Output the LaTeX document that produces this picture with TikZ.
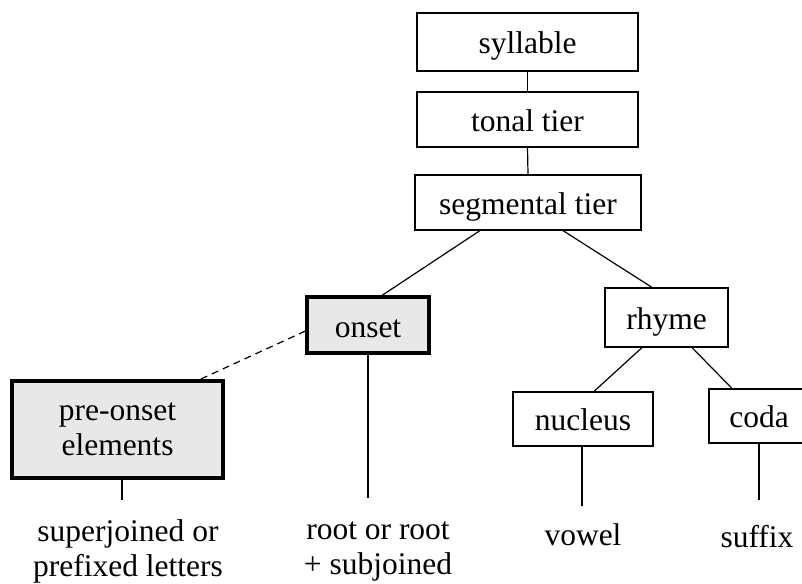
\documentclass[tikz,border=0pt]{standalone}
\usepackage{fontspec}
\setmainfont{Liberation Serif}
\begin{document}
\begin{tikzpicture}[x=1pt,y=-1pt,
    tierbox/.style={draw,line width=1.2pt,inner sep=0pt,
        font=\fontsize{31.5}{35}\selectfont,text height=25pt,text depth=1.5pt},
    keybox/.style={draw,line width=3.2pt,fill=black!9,inner sep=0pt,
        font=\fontsize{31.5}{35}\selectfont},
    gloss/.style={inner sep=0pt,align=center,font=\fontsize{31.5}{35}\selectfont},
    link/.style={line width=1.2pt}]
            \useasboundingbox (0,0) rectangle (802,583);
            \clip (0,0) rectangle (802,583);

            %tiers
            \node[tierbox,minimum width=221pt,minimum height=58pt] (syllable) at (527.5,42) {syllable};

            \node[tierbox,minimum width=221pt,minimum height=55pt] (tonal) at (527.5,119.5) {tonal tier};

            \node[tierbox,minimum width=226pt,minimum height=55pt] (segmental) at (528,202.5) {segmental tier};

            %onset side
            \node[keybox,minimum width=122pt,minimum height=56pt,text height=25pt,text depth=-7pt] (onset) at (368,325) {onset};

            \node[keybox,minimum width=211pt,minimum height=97pt,align=center] (preonset) at (117.5,429.5) {pre-onset\\elements};

            %rhyme side
            \node[tierbox,minimum width=123pt,minimum height=59pt] (rhyme) at (666.5,317.5) {rhyme};

            \node[tierbox,minimum width=140pt,minimum height=54pt] (nucleus) at (583,419) {nucleus};

            \node[tierbox,minimum width=100pt,minimum height=54pt] (coda) at (759,416) {coda};

            %letters
            \node[gloss] (prefixed) at (128,551) {superjoined or\\prefixed letters};

            \node[gloss] (root) at (378,551) {root or root\\+ subjoined};

            \node[gloss,anchor=base] (vowel) at (583,545) {vowel};

            \node[gloss,anchor=base] (suffix) at (757,547) {suffix};

            \coordinate (preonsetEnd) at (122,500);
            \coordinate (onsetEnd) at (368,498);
            \coordinate (nucleusEnd) at (582,506);
            \coordinate (codaEnd) at (759,500);

            %graph
            \draw[link] (syllable.south) -- (tonal.north);

            \draw[link] (tonal.south) -- (segmental.north);

            \draw[link] ([xshift=-48pt]segmental.south) -- ([xshift=14pt]onset.north);

            \draw[link] ([xshift=35pt]segmental.south) -- ([xshift=-14.5pt]rhyme.north);

            \draw[link] ([xshift=-24.5pt]rhyme.south) -- ([xshift=11pt]nucleus.north);

            \draw[link] ([xshift=25.5pt]rhyme.south) -- ([xshift=-27pt]coda.north);

            \draw[link,dash pattern=on 7pt off 5pt] ([yshift=-6pt]onset.west) -- ([xshift=82.5pt]preonset.north);

            \draw[link] ([xshift=4.5pt]preonset.south) -- (preonsetEnd);

            \draw[link] (onset.south) -- (onsetEnd);

            \draw[link] ([xshift=-1pt]nucleus.south) -- (nucleusEnd);

            \draw[link] (coda.south) -- (codaEnd);
        \end{tikzpicture}
\end{document}
